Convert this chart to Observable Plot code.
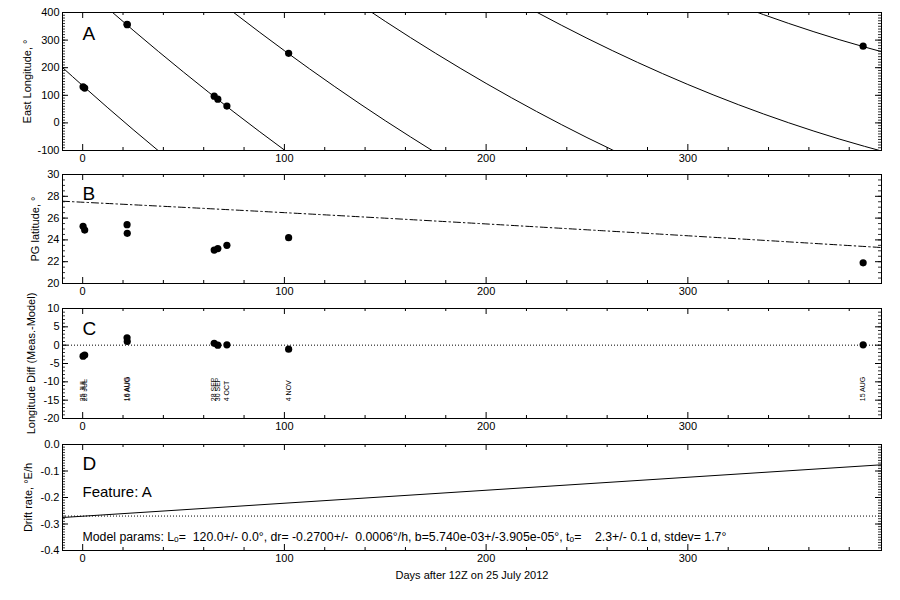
<!DOCTYPE html>
<html>
<head>
<meta charset="utf-8">
<script src="https://cdn.jsdelivr.net/npm/d3@7"></script>
<script src="https://cdn.jsdelivr.net/npm/@observablehq/plot@0.6"></script>
<style>
  html, body { margin: 0; padding: 0; background: white; }
  #chart { position: relative; width: 900px; height: 600px; background: white; font-family: "Liberation Sans", Arial, sans-serif; }
  #chart svg { position: absolute; left: 0; white-space: pre; }
</style>
</head>
<body>
<div id="chart"></div>
<script>
// ---------------- data ----------------
const xDomain = [-10, 396];
const xTickLabels = [0, 100, 200, 300];

// observations
const obsDays  = [0.2, 1.0, 22.0, 22.1, 65.2, 67.0, 71.5, 102.1, 386.9];
const obsLon   = [131, 126, 357, 356, 97, 86, 61, 252, 278];
const obsLat   = [25.25, 24.9, 25.4, 24.6, 23.07, 23.2, 23.5, 24.2, 21.9];
const obsDiff  = [-3.0, -2.7, 2.0, 1.0, 0.5, 0.0, 0.1, -1.1, 0.1];
const obsDates = ["25 JUL", "26 JUL", "16 AUG", "16 AUG", "28 SEP", "30 SEP", "4 OCT", "4 NOV", "15 AUG"];

// model longitude branches (day, east longitude)
const lonBranch0 = [[-10, 200.6], [0, 134.9], [25, -24.1], [50, -176.0]];
const lonBranch1 = [[0, 494.9], [25, 335.9], [50, 184.0], [75, 39.2], [100, -98.3], [125, -228.7]];
const lonBranch2 = [[50, 544.0], [75, 399.2], [100, 261.7], [125, 131.3], [150, 8.0], [175, -108.0]];
const lonBranch3 = [[125, 491.3], [150, 368.0], [175, 252.0], [200, 143.1], [225, 41.4], [250, -53.2], [275, -140.5]];
const lonBranch4 = [[200, 503.1], [225, 401.4], [250, 306.8], [275, 219.5], [300, 139.2], [325, 66.2], [350, 0.4], [375, -58.3], [400, -109.9]];
const lonBranch5 = [[300, 499.2], [325, 426.2], [350, 360.4], [375, 301.7], [400, 250.1]];

// model latitude (dash-dot) in panel B
const latModel = [[-10, 27.55], [100, 26.5], [257, 24.85], [396, 23.3]];

// drift rate model in panel D
const driftModel = [[-10, -0.2755], [396, -0.0766]];
const driftRef = -0.27;

// texts
const yTitleA = "East Longitude, °";
const yTitleB = "PG latitude, °";
const yTitleC = "Longitude Diff (Meas.-Model)";
const yTitleD = "Drift rate, °E/h";
const xTitle = "Days after 12Z on 25 July 2012";
const featureText = "Feature: A";
const paramsText = "Model params: Lₒ=  120.0+/- 0.0°, dr= -0.2700+/-  0.0006°/h, b=5.740e-03+/-3.905e-05°, tₒ=    2.3+/- 0.1 d, stdev= 1.7°";

// tick labels
const yTicksA = [-100, 0, 100, 200, 300, 400];
const yTicksB = [20, 22, 24, 26, 28, 30];
const yTicksC = [-20, -15, -10, -5, 0, 5, 10];
const yTicksD = [-0.4, -0.3, -0.2, -0.1, 0.0];

// ---------------- layout ----------------
const ML = 62, MR = 19, MT = 12, W = 900 - ML - MR;
const FONT = "Liberation Sans, Arial, Helvetica, sans-serif";
const container = document.getElementById("chart");

const xMajor = [0, 100, 200, 300];
const xMinor = d3.range(20, 396, 20).filter(d => d % 100 !== 0);

// inward tick marks on all four sides of a frame (lengths in pixels, converted to data units)
function tickMarks(frameH, yDomain, yMajor, yMinor) {
  const maj = 6, min = 3;
  const [ya, yb] = yDomain, ys = (yb - ya) / frameH;
  const [xa, xb] = xDomain, xs = (xb - xa) / W;
  const s = {stroke: "black", strokeWidth: 1};
  return [
    Plot.ruleX(xMajor, {x: d => d, y1: ya, y2: ya + maj * ys, ...s}),
    Plot.ruleX(xMajor, {x: d => d, y1: yb - maj * ys, y2: yb, ...s}),
    Plot.ruleX(xMinor, {x: d => d, y1: ya, y2: ya + min * ys, ...s}),
    Plot.ruleX(xMinor, {x: d => d, y1: yb - min * ys, y2: yb, ...s}),
    Plot.ruleY(yMajor, {y: d => d, x1: xa, x2: xa + maj * xs, ...s}),
    Plot.ruleY(yMajor, {y: d => d, x1: xb - maj * xs, x2: xb, ...s}),
    Plot.ruleY(yMinor, {y: d => d, x1: xa, x2: xa + min * xs, stroke: "black", strokeWidth: 0.8}),
    Plot.ruleY(yMinor, {y: d => d, x1: xb - min * xs, x2: xb, stroke: "black", strokeWidth: 0.8})
  ];
}

function panel({top, frameH, marginBottom = 20, yDomain, yTicks, yFmt, yMinor, yTitle, titleX, letter, letterDy, marks}) {
  const height = MT + frameH + marginBottom;
  const svg = Plot.plot({
    width: 900,
    height,
    marginLeft: ML, marginRight: MR, marginTop: MT, marginBottom,
    style: {fontFamily: FONT, fontSize: "11px", background: "none", overflow: "visible", color: "black"},
    x: {domain: xDomain, ticks: xTickLabels, tickSize: 0, tickPadding: 4, label: null, tickFormat: d => String(d)},
    y: {domain: yDomain, ticks: yTicks, tickSize: 0, tickPadding: 3, label: null, tickFormat: yFmt},
    marks: [
      ...tickMarks(frameH, yDomain, yTicks, yMinor),
      ...marks,
      Plot.frame({stroke: "black", strokeWidth: 1}),
      Plot.text([letter], {text: d => d, frameAnchor: "top-left", dx: 20, dy: letterDy, fontSize: 19, textAnchor: "start", lineAnchor: "middle"}),
      Plot.text([yTitle], {text: d => d, frameAnchor: "left", dx: titleX - ML, rotate: -90, textAnchor: "middle", lineAnchor: "middle", fontSize: 11})
    ]
  });
  svg.style.top = (top - MT) + "px";
  container.appendChild(svg);
  return svg;
}

const obs = obsDays.map((d, i) => ({day: d, lon: obsLon[i], lat: obsLat[i], diff: obsDiff[i], date: obsDates[i]}));
const lineOpts = {x: d => d[0], y: d => d[1], stroke: "black", strokeWidth: 1, curve: "monotone-x", clip: true};

// Panel A
panel({
  top: 12, frameH: 138, yDomain: [-100, 400], yTicks: yTicksA, yFmt: d => String(d),
  yMinor: d3.range(-100, 401, 10), yTitle: yTitleA, titleX: 27, letter: "A", letterDy: 21,
  marks: [
    Plot.line(lonBranch0, lineOpts),
    Plot.line(lonBranch1, lineOpts),
    Plot.line(lonBranch2, lineOpts),
    Plot.line(lonBranch3, lineOpts),
    Plot.line(lonBranch4, lineOpts),
    Plot.line(lonBranch5, lineOpts),
    Plot.dot(obs, {x: "day", y: "lon", r: 3.6, fill: "black", stroke: "none"})
  ]
});

// Panel B
panel({
  top: 174, frameH: 109, yDomain: [20, 30], yTicks: yTicksB, yFmt: d => String(d),
  yMinor: d3.range(20, 30.01, 0.5), yTitle: yTitleB, titleX: 35, letter: "B", letterDy: 19,
  marks: [
    Plot.line(latModel, {...lineOpts, strokeDasharray: "7,3,1.5,3"}),
    Plot.dot(obs, {x: "day", y: "lat", r: 3.6, fill: "black", stroke: "none"})
  ]
});

// Panel C
panel({
  top: 308, frameH: 110, yDomain: [-20, 10], yTicks: yTicksC, yFmt: d => String(d),
  yMinor: d3.range(-20, 10.01, 1), yTitle: yTitleC, titleX: 31, letter: "C", letterDy: 20,
  marks: [
    Plot.ruleY([0], {stroke: "black", strokeWidth: 1, strokeDasharray: "1,2"}),
    Plot.dot(obs, {x: "day", y: "diff", r: 3.6, fill: "black", stroke: "none"}),
    Plot.text(obs, {x: "day", y: () => -15.3, text: "date", rotate: -90, textAnchor: "start", lineAnchor: "middle", fontSize: 7})
  ]
});

// Panel D
panel({
  top: 444, frameH: 106, marginBottom: 45, yDomain: [-0.4, 0], yTicks: yTicksD, yFmt: d => d.toFixed(1),
  yMinor: d3.range(-40, 1, 1).map(d => d / 100), yTitle: yTitleD, titleX: 28, letter: "D", letterDy: 19,
  marks: [
    Plot.ruleY([driftRef], {stroke: "black", strokeWidth: 1, strokeDasharray: "1,2"}),
    Plot.line(driftModel, lineOpts),
    Plot.text([featureText], {text: d => d, frameAnchor: "top-left", dx: 20, dy: 48, fontSize: 15, textAnchor: "start", lineAnchor: "middle"}),
    Plot.text([paramsText], {text: d => d, frameAnchor: "top-left", dx: 20, dy: 93, fontSize: 12.3, textAnchor: "start", lineAnchor: "middle"}),
    Plot.text([xTitle], {text: d => d, frameAnchor: "bottom", dy: 25, fontSize: 11, textAnchor: "middle", lineAnchor: "middle"})
  ]
});
</script>
</body>
</html>
